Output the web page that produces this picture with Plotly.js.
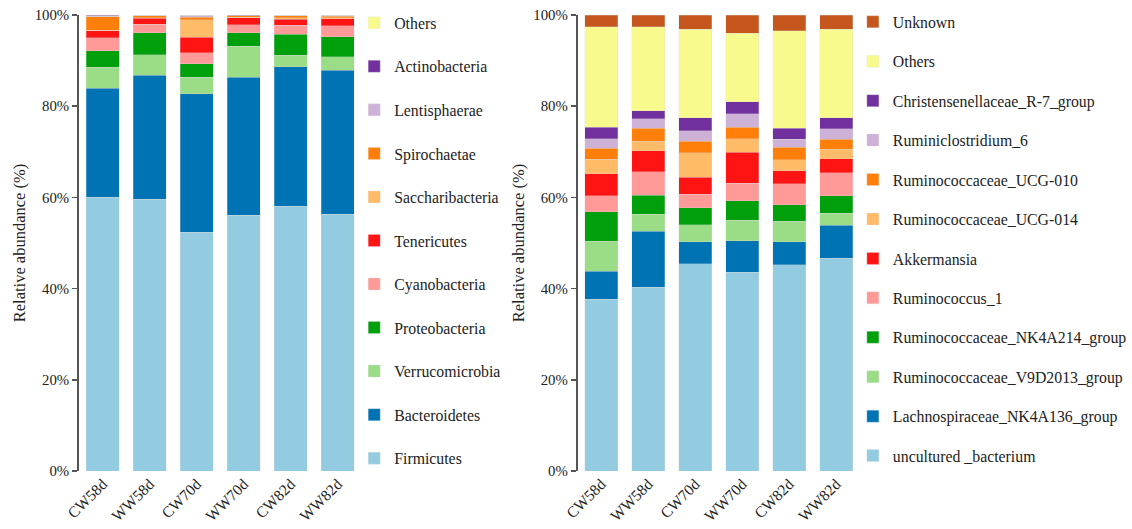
<!DOCTYPE html>
<html>
<head>
<meta charset="utf-8">
<script src="https://cdn.plot.ly/plotly-3.0.1.min.js"></script>
<style>html,body{margin:0;padding:0;background:#fff;}#chart{width:1132px;height:529px;}</style>
</head>
<body>
<div id="chart"></div>
<script>
// Samples (x categories)
const samples = ["CW58d", "WW58d", "CW70d", "WW70d", "CW82d", "WW82d"];

// ----- Left chart: phylum level (% relative abundance), bottom to top -----
const phylumNames = ["Firmicutes", "Bacteroidetes", "Verrucomicrobia", "Proteobacteria", "Cyanobacteria",
  "Tenericutes", "Saccharibacteria", "Spirochaetae", "Lentisphaerae", "Actinobacteria", "Others"];
const firmicutes       = [60.0, 59.6, 52.4, 56.1, 58.1, 56.3];
const bacteroidetes    = [23.9, 27.2, 30.3, 30.2, 30.6, 31.6];
const verrucomicrobia  = [4.6, 4.5, 3.6, 6.8, 2.5, 2.9];
const proteobacteria   = [3.7, 4.8, 3.0, 3.0, 4.6, 4.4];
const cyanobacteria    = [2.8, 1.9, 2.4, 1.8, 1.9, 2.4];
const tenericutes      = [1.6, 1.3, 3.4, 1.5, 1.4, 1.6];
const saccharibacteria = [0.1, 0.1, 3.9, 0.1, 0.3, 0.2];
const spirochaetae     = [2.9, 0.4, 0.5, 0.3, 0.4, 0.3];
const lentisphaerae    = [0.1, 0.1, 0.4, 0.0, 0.1, 0.2];
const actinobacteria   = [0.3, 0.05, 0.05, 0.2, 0.05, 0.05];
const phylumOthers     = [0.0, 0.05, 0.05, 0.0, 0.05, 0.05];
const phylumValues = [firmicutes, bacteroidetes, verrucomicrobia, proteobacteria, cyanobacteria,
  tenericutes, saccharibacteria, spirochaetae, lentisphaerae, actinobacteria, phylumOthers];

// ----- Right chart: genus level (% relative abundance), bottom to top -----
const genusNames = ["uncultured _bacterium", "Lachnospiraceae_NK4A136_group", "Ruminococcaceae_V9D2013_group",
  "Ruminococcaceae_NK4A214_group", "Ruminococcus_1", "Akkermansia", "Ruminococcaceae_UCG-014",
  "Ruminococcaceae_UCG-010", "Ruminiclostridium_6", "Christensenellaceae_R-7_group", "Others", "Unknown"];
const unculturedBacterium = [37.7, 40.3, 45.4, 43.6, 45.2, 46.7];
const lachnoNK4A136       = [6.1, 12.3, 4.9, 6.9, 5.1, 7.2];
const rumV9D2013          = [6.6, 3.7, 3.7, 4.5, 4.5, 2.6];
const rumNK4A214          = [6.5, 4.2, 3.7, 4.3, 3.6, 3.9];
const ruminococcus1       = [3.5, 5.1, 3.0, 3.8, 4.6, 5.0];
const akkermansia         = [4.8, 4.6, 3.7, 6.8, 2.8, 3.1];
const rumUCG014           = [3.2, 2.1, 5.4, 3.0, 2.5, 2.1];
const rumUCG010           = [2.4, 2.9, 2.5, 2.5, 2.7, 2.2];
const ruminiclostridium6  = [2.1, 2.0, 2.3, 3.0, 1.7, 2.3];
const christensenellaceae = [2.5, 1.8, 2.9, 2.6, 2.5, 2.4];
const genusOthers         = [22.0, 18.4, 19.4, 15.0, 21.4, 19.4];
const genusUnknown        = [2.6, 2.6, 3.1, 4.0, 3.4, 3.1];
const genusValues = [unculturedBacterium, lachnoNK4A136, rumV9D2013, rumNK4A214, ruminococcus1, akkermansia,
  rumUCG014, rumUCG010, ruminiclostridium6, christensenellaceae, genusOthers, genusUnknown];

const yTicks = [0, 20, 40, 60, 80, 100];

// Colours
const phylumColors = ["#93CCE0", "#0073B4", "#9ADD86", "#00A00C", "#FF9A99", "#FF1414",
  "#FFBB68", "#FF7F0A", "#CEB1D7", "#72309E", "#F8FA8E"];
const genusColors = ["#93CCE0", "#0073B4", "#9ADD86", "#00A00C", "#FF9A99", "#FF1414",
  "#FFBB68", "#FF7F0A", "#CEB1D7", "#72309E", "#F8FA8E", "#C5561E"];

const FONT = "Liberation Serif, Times New Roman, serif";
const traces = [];
phylumNames.forEach((n, i) => {
  traces.push({
    type: "bar", name: n, x: samples, y: phylumValues[i],
    xaxis: "x", yaxis: "y", legend: "legend", legendgroup: "p" + i,
    legendrank: 100 - i,
    marker: {color: phylumColors[i], line: {color: "rgba(220,220,220,0.6)", width: 0.5}},
    hoverinfo: "name+y"
  });
});
genusNames.forEach((n, i) => {
  traces.push({
    type: "bar", name: n, x: samples, y: genusValues[i],
    xaxis: "x2", yaxis: "y2", legend: "legend2", legendgroup: "g" + i,
    legendrank: 100 - i,
    marker: {color: genusColors[i], line: {color: "rgba(220,220,220,0.6)", width: 0.5}},
    hoverinfo: "name+y"
  });
});

const W = 1132, H = 529;
const yAxisBase = {
  range: [0, 100], tickvals: yTicks, ticktext: yTicks.map(v => v + "%"),
  showline: true, linecolor: "#555", linewidth: 2, ticks: "outside", ticklen: 5,
  tickcolor: "#555", tickwidth: 1.5, showgrid: false, zeroline: false,
  tickfont: {family: FONT, size: 14.8, color: "#222"},
  title: {text: "Relative abundance (%)", standoff: 5, font: {family: FONT, size: 16.5, color: "#222"}},
  domain: [(H - 471) / H, (H - 15) / H]
};
const xAxisBase = {
  showline: false, ticks: "", showgrid: false, zeroline: false, tickangle: -45,
  tickfont: {family: FONT, size: 15.5, color: "#222"}, range: [-0.5, 5.5]
};

const layout = {
  width: W, height: H,
  margin: {l: 0, r: 0, t: 0, b: 0},
  paper_bgcolor: "#fff", plot_bgcolor: "#fff",
  barmode: "stack", bargap: 0.3,
  showlegend: true,
  xaxis: Object.assign({}, xAxisBase, {domain: [80 / W, 365 / W], anchor: "y"}),
  yaxis: Object.assign({}, yAxisBase, {anchor: "x"}),
  xaxis2: Object.assign({}, xAxisBase, {domain: [584 / W, 869 / W], anchor: "y2"}),
  yaxis2: Object.assign({}, yAxisBase, {anchor: "x2"}),
  legend: {
    x: 358 / W, y: 1 - 6 / H, xanchor: "left", yanchor: "top",
    traceorder: "grouped", tracegroupgap: 20,
    font: {family: FONT, size: 15.8, color: "#222"}, bgcolor: "rgba(0,0,0,0)"
  },
  legend2: {
    x: 862 / W, y: 1 - 5 / H, xanchor: "left", yanchor: "top",
    traceorder: "grouped", tracegroupgap: 15.9,
    font: {family: FONT, size: 15.8, color: "#222"}, bgcolor: "rgba(0,0,0,0)"
  }
};

Plotly.newPlot("chart", traces, layout, {displayModeBar: false, staticPlot: true});
</script>
</body>
</html>
